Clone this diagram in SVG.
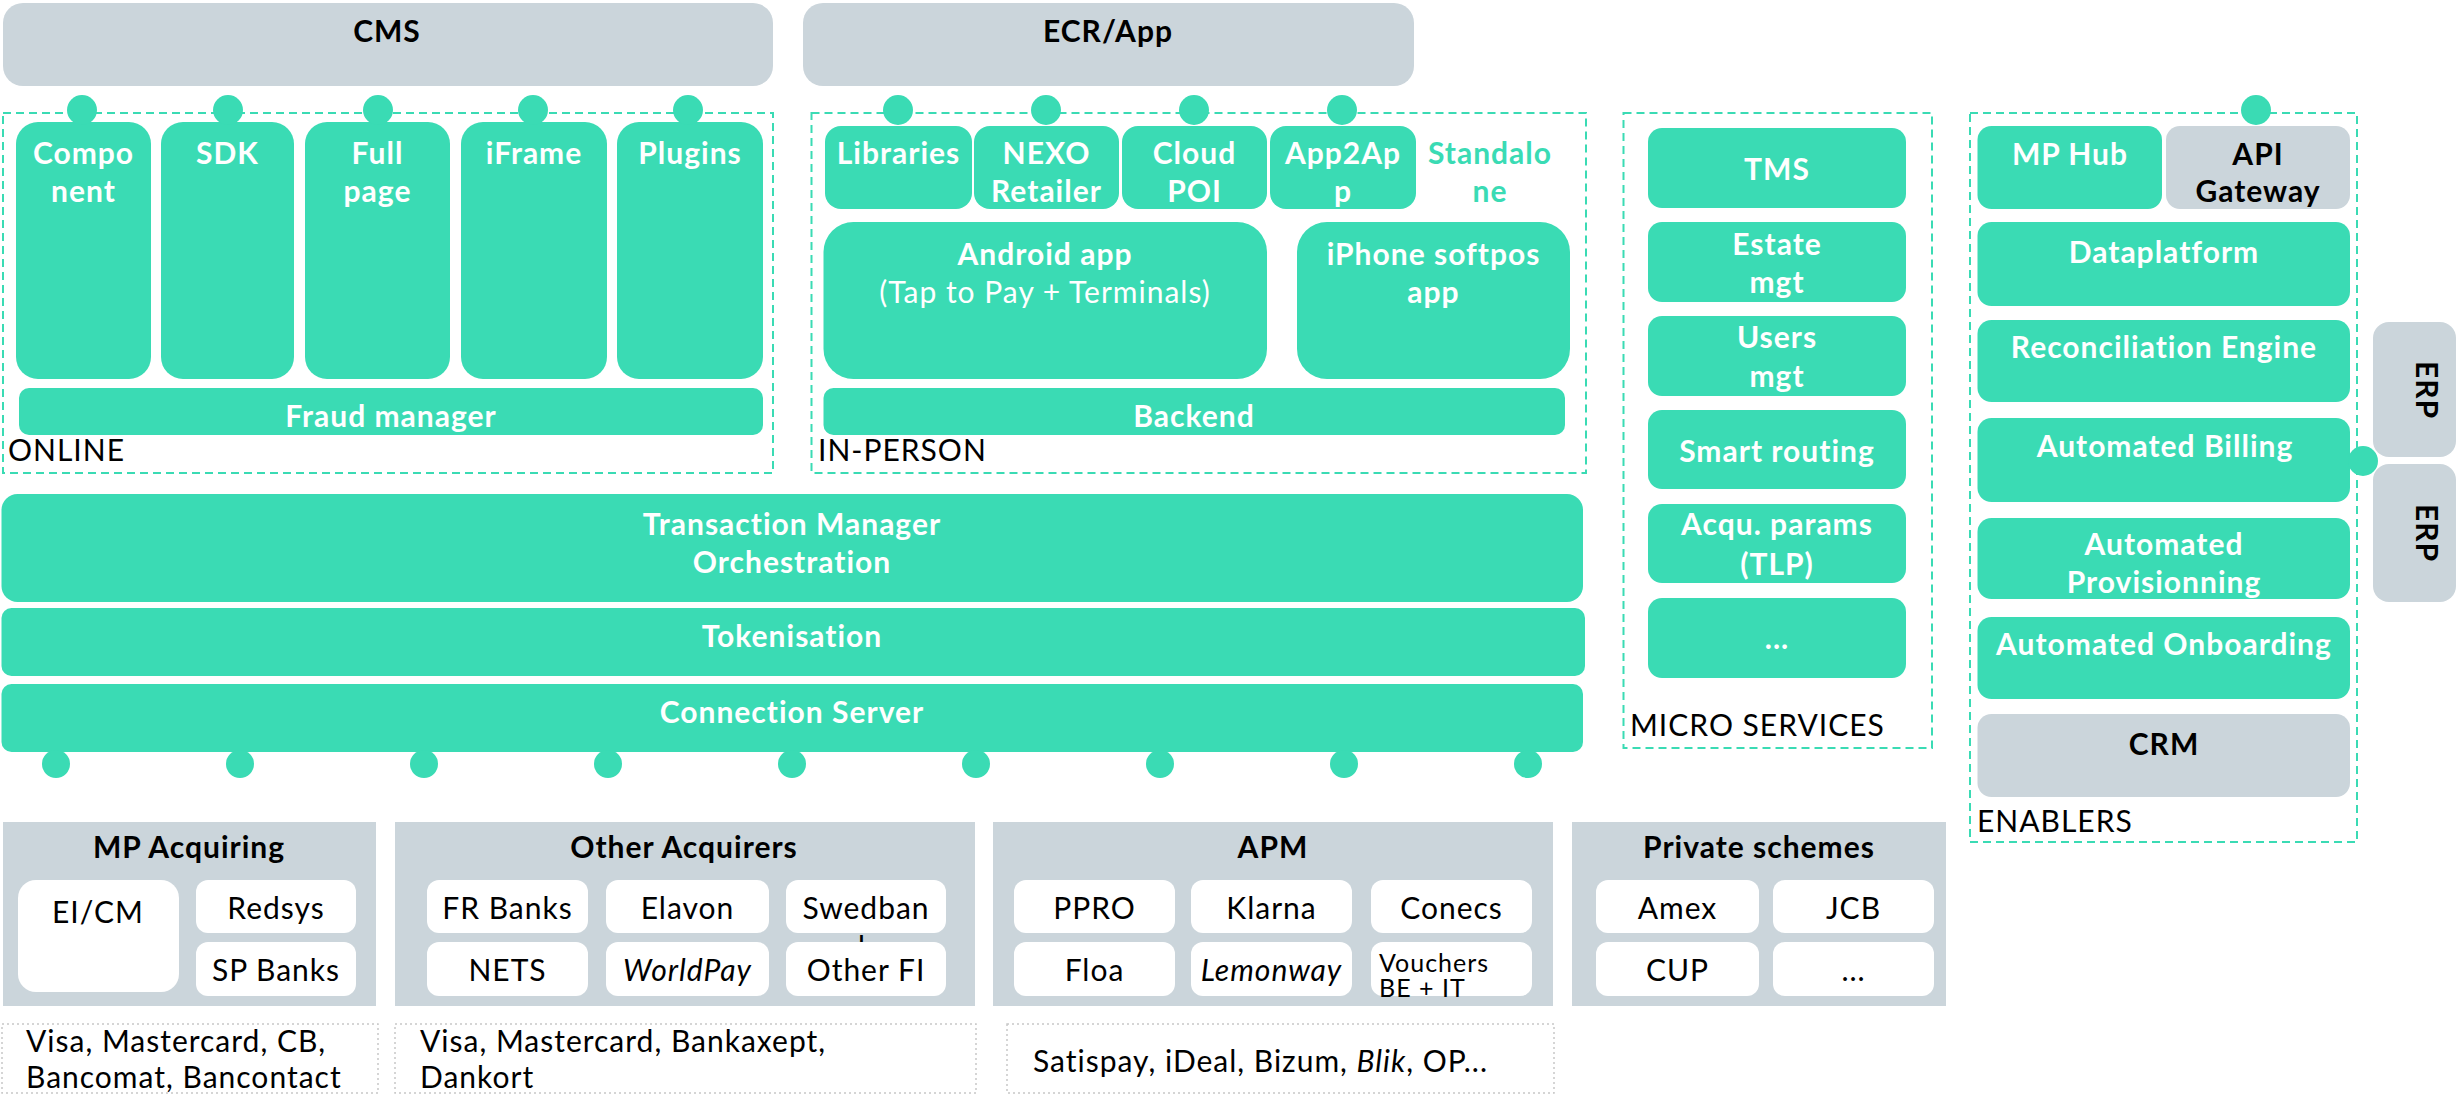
<svg xmlns="http://www.w3.org/2000/svg" width="2458" height="1095" viewBox="0 0 2458 1095">
<style>
text{font-family:Lato,"Liberation Sans",sans-serif;letter-spacing:1px}
.t{fill:#3ADBB4}
.g{fill:#CBD5DB}
.w{fill:#FFFFFF}
.dash{fill:none;stroke:#3ADBB4;stroke-width:2;stroke-dasharray:8 5}
.dot{fill:none;stroke:#C8C8C8;stroke-width:1.5;stroke-dasharray:2 3}
.lw{fill:#FFFFFF;font-size:30px;font-weight:700;text-anchor:middle}
.lwr{fill:#FFFFFF;font-size:30px;font-weight:400;text-anchor:middle}
.lb{fill:#000000;font-size:30px;font-weight:700;text-anchor:middle}
.lr{fill:#000000;font-size:30px;font-weight:400;text-anchor:middle}
.cap{fill:#000000;font-size:30px;font-weight:400}
.sm{font-size:25px}
.lt{fill:#3ADBB4;font-size:30px;font-weight:700;text-anchor:middle}
.c{fill:#3ADBB4}
</style>

<g id="cms"><rect class="g" x="3" y="3" width="770" height="83" rx="20"/><text class="lb" x="387" y="42">CMS</text></g>
<g id="ecr"><rect class="g" x="803" y="3" width="611" height="83" rx="20"/><text class="lb" x="1108" y="42">ECR/App</text></g>

<g id="online">
<rect class="dash" x="3" y="113" width="770" height="360"/>
<g id="component"><rect class="t" x="16" y="122" width="135" height="257" rx="22"/><text class="lw" x="83.5" y="164">Compo</text><text class="lw" x="83.5" y="202">nent</text></g>
<g id="sdk"><rect class="t" x="161" y="122" width="133" height="257" rx="22"/><text class="lw" x="227.5" y="164">SDK</text></g>
<g id="fullpage"><rect class="t" x="305" y="122" width="145" height="257" rx="22"/><text class="lw" x="377.5" y="164">Full</text><text class="lw" x="377.5" y="202">page</text></g>
<g id="iframe"><rect class="t" x="461" y="122" width="146" height="257" rx="22"/><text class="lw" x="534" y="164">iFrame</text></g>
<g id="plugins"><rect class="t" x="617" y="122" width="146" height="257" rx="22"/><text class="lw" x="690" y="164">Plugins</text></g>
<g id="fraud"><rect class="t" x="19" y="388" width="744" height="47" rx="10"/><text class="lw" x="391" y="427">Fraud manager</text></g>
<text class="cap" x="8" y="461">ONLINE</text>
</g>

<g id="inperson">
<rect class="dash" x="811.5" y="113" width="774.5" height="360"/>
<g id="libraries"><rect class="t" x="825" y="126" width="147" height="83" rx="16"/><text class="lw" x="898.5" y="164">Libraries</text></g>
<g id="nexo"><rect class="t" x="974" y="126" width="145" height="83" rx="16"/><text class="lw" x="1046.5" y="164">NEXO</text><text class="lw" x="1046.5" y="202">Retailer</text></g>
<g id="cloudpoi"><rect class="t" x="1122" y="126" width="145" height="83" rx="16"/><text class="lw" x="1194.5" y="164">Cloud</text><text class="lw" x="1194.5" y="202">POI</text></g>
<g id="app2app"><rect class="t" x="1270" y="126" width="146" height="83" rx="16"/><text class="lw" x="1343" y="164">App2Ap</text><text class="lw" x="1343" y="202">p</text></g>
<g id="standalone"><text class="lt" x="1490" y="164">Standalo</text><text class="lt" x="1490" y="202">ne</text></g>
<g id="android"><rect class="t" x="823.5" y="222" width="443.5" height="157" rx="30"/><text class="lw" x="1045" y="265">Android app</text><text class="lwr" x="1045" y="303">(Tap to Pay + Terminals)</text></g>
<g id="iphone"><rect class="t" x="1297" y="222" width="273" height="157" rx="30"/><text class="lw" x="1433.5" y="265">iPhone softpos</text><text class="lw" x="1433.5" y="303">app</text></g>
<g id="backend"><rect class="t" x="823.5" y="388" width="741.5" height="47" rx="10"/><text class="lw" x="1194" y="427">Backend</text></g>
<text class="cap" x="818" y="461">IN-PERSON</text>
</g>

<g id="transaction"><rect class="t" x="1.5" y="494" width="1581.5" height="108" rx="16"/><text class="lw" x="792" y="535">Transaction Manager</text><text class="lw" x="792" y="573">Orchestration</text></g>
<g id="tokenisation"><rect class="t" x="1.5" y="608" width="1583.5" height="68" rx="10"/><text class="lw" x="792" y="647">Tokenisation</text></g>
<g id="connection"><rect class="t" x="1.5" y="684" width="1581.5" height="68" rx="10"/><text class="lw" x="792" y="723">Connection Server</text></g>

<g id="microservices">
<rect class="dash" x="1623.5" y="113" width="308.5" height="635"/>
<g id="tms"><rect class="t" x="1648" y="128" width="258" height="80" rx="14"/><text class="lw" x="1777" y="180">TMS</text></g>
<g id="estate"><rect class="t" x="1648" y="222" width="258" height="80" rx="14"/><text class="lw" x="1777" y="255">Estate</text><text class="lw" x="1777" y="293">mgt</text></g>
<g id="users"><rect class="t" x="1648" y="316" width="258" height="80" rx="14"/><text class="lw" x="1777" y="348">Users</text><text class="lw" x="1777" y="387">mgt</text></g>
<g id="smartrouting"><rect class="t" x="1648" y="410" width="258" height="79" rx="14"/><text class="lw" x="1777" y="462">Smart routing</text></g>
<g id="acqu"><rect class="t" x="1648" y="504" width="258" height="79" rx="14"/><text class="lw" x="1777" y="535">Acqu. params</text><text class="lw" x="1777" y="575">(TLP)</text></g>
<g id="more"><rect class="t" x="1648" y="598" width="258" height="80" rx="14"/><text class="lw" x="1777" y="649">...</text></g>
<text class="cap" x="1630" y="736">MICRO SERVICES</text>
</g>

<g id="enablers">
<rect class="dash" x="1970" y="113" width="387" height="729"/>
<g id="mphub"><rect class="t" x="1977.5" y="126" width="184.5" height="83" rx="14"/><text class="lw" x="2070" y="165">MP Hub</text></g>
<g id="apigateway"><rect class="g" x="2166" y="126" width="184" height="83" rx="14"/><text class="lb" x="2258" y="165">API</text><text class="lb" x="2258" y="202">Gateway</text></g>
<g id="dataplatform"><rect class="t" x="1977.5" y="222" width="372.5" height="84" rx="14"/><text class="lw" x="2164" y="263">Dataplatform</text></g>
<g id="reconciliation"><rect class="t" x="1977.5" y="320" width="372.5" height="82" rx="14"/><text class="lw" x="2164" y="358">Reconciliation Engine</text></g>
<g id="billing"><rect class="t" x="1977.5" y="418" width="372.5" height="84" rx="14"/><text class="lw" x="2165" y="457">Automated Billing</text></g>
<g id="provisionning"><rect class="t" x="1977.5" y="518" width="372.5" height="81" rx="14"/><text class="lw" x="2164" y="555">Automated</text><text class="lw" x="2164" y="593">Provisionning</text></g>
<g id="onboarding"><rect class="t" x="1977.5" y="617" width="372.5" height="82" rx="14"/><text class="lw" x="2164" y="655">Automated Onboarding</text></g>
<g id="crm"><rect class="g" x="1977.5" y="714" width="372.5" height="83" rx="14"/><text class="lb" x="2164" y="755">CRM</text></g>
<text class="cap" x="1977" y="832">ENABLERS</text>
</g>

<g id="erp1"><rect class="g" x="2373" y="322" width="83" height="135" rx="16"/><text class="lb" transform="translate(2416,390) rotate(90)">ERP</text></g>
<g id="erp2"><rect class="g" x="2373" y="464" width="83" height="138" rx="16"/><text class="lb" transform="translate(2416,533) rotate(90)">ERP</text></g>

<g id="mpacquiring">
<rect class="g" x="3" y="822" width="373" height="184"/>
<text class="lb" x="189" y="858">MP Acquiring</text>
<rect class="w" x="18" y="880" width="161" height="112" rx="18"/><text class="lr" x="98" y="923">EI/CM</text>
<rect class="w" x="196" y="880" width="160" height="53" rx="12"/><text class="lr" x="276" y="919">Redsys</text>
<rect class="w" x="196" y="942" width="160" height="54" rx="12"/><text class="lr" x="276" y="981">SP Banks</text>
</g>

<g id="otheracquirers">
<rect class="g" x="395" y="822" width="580" height="184"/>
<text class="lb" x="684" y="858">Other Acquirers</text>
<rect class="w" x="427" y="880" width="161" height="53" rx="12"/><text class="lr" x="507.5" y="919">FR Banks</text>
<rect class="w" x="606" y="880" width="163" height="53" rx="12"/><text class="lr" x="687.5" y="919">Elavon</text>
<rect class="w" x="786" y="880" width="160" height="53" rx="12"/><text class="lr" x="866" y="919">Swedban</text><text class="lr" x="866" y="958">k</text>
<rect class="w" x="427" y="942" width="161" height="54" rx="12"/><text class="lr" x="507.5" y="981">NETS</text>
<rect class="w" x="606" y="942" width="163" height="54" rx="12"/><text class="lr" x="687.5" y="981" font-style="italic">WorldPay</text>
<rect class="w" x="786" y="942" width="160" height="54" rx="12"/><text class="lr" x="866" y="981">Other FI</text>
</g>

<g id="apm">
<rect class="g" x="993" y="822" width="560" height="184"/>
<text class="lb" x="1273" y="858">APM</text>
<rect class="w" x="1014" y="880" width="161" height="53" rx="12"/><text class="lr" x="1094.5" y="919">PPRO</text>
<rect class="w" x="1191" y="880" width="161" height="53" rx="12"/><text class="lr" x="1271.5" y="919">Klarna</text>
<rect class="w" x="1371" y="880" width="161" height="53" rx="12"/><text class="lr" x="1451.5" y="919">Conecs</text>
<rect class="w" x="1014" y="942" width="161" height="54" rx="12"/><text class="lr" x="1094.5" y="981">Floa</text>
<rect class="w" x="1191" y="942" width="161" height="54" rx="12"/><text class="lr" x="1271.5" y="981" font-style="italic">Lemonway</text>
<rect class="w" x="1371" y="942" width="161" height="54" rx="12"/><text class="cap sm" x="1379" y="972">Vouchers</text><text class="cap sm" x="1379" y="997">BE + IT</text>
</g>

<g id="privateschemes">
<rect class="g" x="1572" y="822" width="374" height="184"/>
<text class="lb" x="1759" y="858">Private schemes</text>
<rect class="w" x="1596" y="880" width="163" height="53" rx="12"/><text class="lr" x="1677.5" y="919">Amex</text>
<rect class="w" x="1773" y="880" width="161" height="53" rx="12"/><text class="lr" x="1853.5" y="919">JCB</text>
<rect class="w" x="1596" y="942" width="163" height="54" rx="12"/><text class="lr" x="1677.5" y="981">CUP</text>
<rect class="w" x="1773" y="942" width="161" height="54" rx="12"/><text class="lr" x="1853.5" y="981">...</text>
</g>

<g id="schemes-mp"><rect class="dot" x="2" y="1024" width="376" height="69"/><text class="cap" x="26" y="1052">Visa, Mastercard, CB,</text><text class="cap" x="26" y="1088">Bancomat, Bancontact</text></g>
<g id="schemes-other"><rect class="dot" x="395" y="1024" width="581" height="69"/><text class="cap" x="420" y="1052">Visa, Mastercard, Bankaxept,</text><text class="cap" x="420" y="1088">Dankort</text></g>
<g id="schemes-apm"><rect class="dot" x="1007" y="1024" width="547" height="69"/><text class="cap" x="1033" y="1072">Satispay, iDeal, Bizum, <tspan font-style="italic">Blik</tspan>, OP...</text></g>

<g id="connectors">
<circle class="c" cx="82" cy="110" r="15"/>
<circle class="c" cx="228" cy="110" r="15"/>
<circle class="c" cx="378" cy="110" r="15"/>
<circle class="c" cx="533" cy="110" r="15"/>
<circle class="c" cx="688" cy="110" r="15"/>
<circle class="c" cx="898" cy="110" r="15"/>
<circle class="c" cx="1046" cy="110" r="15"/>
<circle class="c" cx="1194" cy="110" r="15"/>
<circle class="c" cx="1342" cy="110" r="15"/>
<circle class="c" cx="2256" cy="110" r="15"/>
<circle class="c" cx="2363" cy="461" r="15"/>
<circle class="c" cx="56" cy="764" r="14"/>
<circle class="c" cx="240" cy="764" r="14"/>
<circle class="c" cx="424" cy="764" r="14"/>
<circle class="c" cx="608" cy="764" r="14"/>
<circle class="c" cx="792" cy="764" r="14"/>
<circle class="c" cx="976" cy="764" r="14"/>
<circle class="c" cx="1160" cy="764" r="14"/>
<circle class="c" cx="1344" cy="764" r="14"/>
<circle class="c" cx="1528" cy="764" r="14"/>
</g>
</svg>
